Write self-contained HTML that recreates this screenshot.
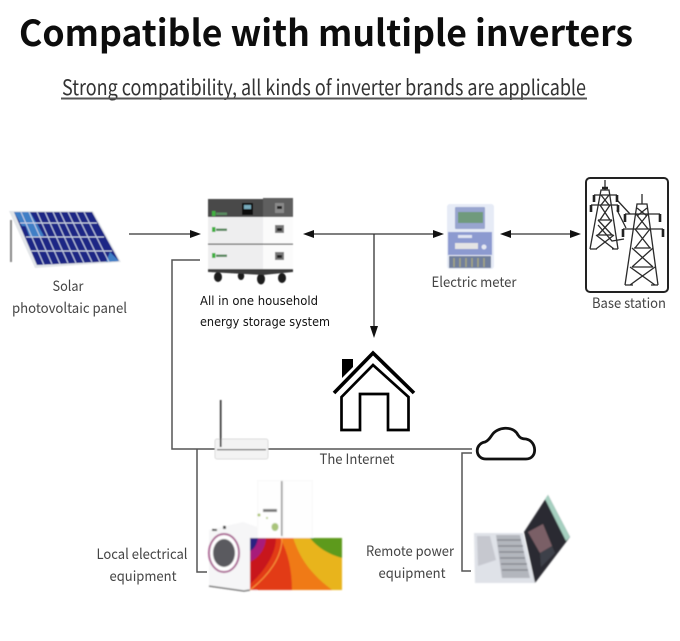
<!DOCTYPE html>
<html><head><meta charset="utf-8"><style>
html,body{margin:0;padding:0;background:#fff}
svg{display:block}
text{font-family:"Noto Sans CJK SC","Liberation Sans",sans-serif}
</style></head><body>
<svg width="680" height="641" viewBox="0 0 680 641" xmlns="http://www.w3.org/2000/svg">
<defs>
<filter id="b" x="-10%" y="-10%" width="120%" height="120%"><feGaussianBlur stdDeviation="0.5"/></filter>
<filter id="b2" x="-10%" y="-10%" width="120%" height="120%"><feGaussianBlur stdDeviation="0.8"/></filter>
<filter id="t" x="-5%" y="-20%" width="110%" height="140%"><feGaussianBlur stdDeviation="0.35"/></filter>
</defs>

<!-- Titles -->
<text x="19" y="46" font-size="36" font-weight="bold" fill="#0c0c0c" textLength="614" lengthAdjust="spacingAndGlyphs" filter="url(#t)">Compatible with multiple inverters</text>
<text x="62" y="95" font-size="21" fill="#333" textLength="524" lengthAdjust="spacingAndGlyphs" filter="url(#t)">Strong compatibility, all kinds of inverter brands are applicable</text>
<rect x="61" y="97.500" width="526" height="2" fill="#555"/>

<!-- Connectors -->
<g fill="none" stroke="#333" stroke-width="1.300">
<path d="M129 234H192"/>
<path d="M312 234H434"/>
<path d="M374 234V328"/>
<path d="M510 234H572"/>
</g>
<g fill="none" stroke="#555" stroke-width="1.500">
<path d="M200 260H172V449H472"/>
<path d="M197 449V572H207"/>
<path d="M472 453H462V571H471"/>
</g>
<g fill="#111">
<path d="M201 234L190 230V238Z"/>
<path d="M303 234L314 230V238Z"/>
<path d="M444 234L433 230V238Z"/>
<path d="M500 234L511 230V238Z"/>
<path d="M581 234L570 230V238Z"/>
<path d="M374 338L370 326H378Z"/>
</g>

<!-- Solar panel -->
<g filter="url(#b)">
<path d="M11 220V262" stroke="#888" stroke-width="2" fill="none"/>
<path d="M9 211H93L121 262L35 268Z" fill="#e2e5e8"/>
<path d="M14 212H92L119 261L37 265Z" fill="#1b2785"/>
<path d="M14 212H30L38 226L22 226Z" fill="#3f7fc6"/>
<path d="M24 222H36L44 236L30 238Z" fill="#3f7fc6"/>
<path d="M110 252L119 261L106 262Z" fill="#3f7fc6"/>
<g stroke="#c9d2e6" stroke-width="1">
<path d="M20 223H97M26 237H104M31 251H112"/>
<path d="M21 212L44 265M29 212L52 264M37 212L60 264M45 212L68 263M53 212L76 263M60 212L84 263M68 212L92 262M76 212L100 262M84 212L109 262"/>
</g>
</g>

<!-- Battery -->
<g filter="url(#b)">
<g fill="#1a1a1a">
<ellipse cx="218" cy="277" rx="4" ry="5"/><ellipse cx="241" cy="276" rx="3.200" ry="4"/><ellipse cx="261" cy="279" rx="4" ry="5.500"/><ellipse cx="282" cy="278" rx="4" ry="5"/>
</g>
<rect x="208" y="199" width="55" height="18" fill="#4a4a4a"/>
<rect x="263" y="198" width="30" height="19" fill="#5e5e5e"/>
<rect x="208" y="217" width="55" height="53" fill="#eeeeef"/>
<rect x="263" y="217" width="30" height="53" fill="#fbfbfb"/>
<rect x="208" y="243.500" width="85" height="1.200" fill="#555"/>
<path d="M208 269H293V272L263 275L208 272Z" fill="#3c3c3c"/>
<rect x="242" y="203" width="11" height="12" fill="#111"/>
<rect x="244" y="205" width="7" height="4" fill="#7ab"/>
<rect x="275" y="203" width="9" height="10" fill="#8a8a8a"/><rect x="277" y="206" width="5" height="3" fill="#222"/>
<rect x="275" y="225" width="9" height="8" fill="#777"/><rect x="277" y="228" width="5" height="3" fill="#222"/>
<rect x="275" y="252" width="9" height="8" fill="#777"/><rect x="277" y="255" width="5" height="3" fill="#222"/>
<g fill="#3fb03f"><rect x="212" y="211" width="3.500" height="5"/><rect x="212" y="227" width="3.500" height="5"/><rect x="212" y="253" width="3.500" height="5"/></g>
<g fill="#5a8a60"><rect x="216" y="212.500" width="11" height="2.500"/><rect x="216" y="228.500" width="11" height="2.500"/><rect x="216" y="254.500" width="11" height="2.500"/></g>
</g>

<!-- Electric meter -->
<g filter="url(#b)">
<rect x="447" y="204" width="47" height="65" rx="3" fill="#e6ebf6"/>
<rect x="455" y="207" width="30" height="22" rx="1" fill="#98a5cf"/>
<rect x="458" y="212" width="25" height="11" fill="#6f9a7d"/>
<rect x="448" y="232" width="44" height="23" fill="#8c9ad0"/>
<rect x="455" y="243" width="23" height="6" fill="#e4e4e4"/>
<rect x="458" y="235" width="14" height="3" fill="#dfe4f2"/>
<circle cx="484" cy="247" r="2.500" fill="#e5e8f2"/>
<rect x="449" y="256" width="42" height="12" fill="#6f7f9c"/>
<path d="M454 258V267M460 258V267M466 258V267M472 258V267M478 258V267M484 258V267" stroke="#a8a880" stroke-width="1.500"/>
</g>

<!-- Pylons box -->
<rect x="586" y="178" width="82" height="114" rx="4" fill="#fff" stroke="#222" stroke-width="2"/>
<g fill="none" stroke="#2a2a2a" stroke-width="1.300" filter="url(#t)">
<path d="M605 180V190M590 249L601 190H609L618 249"/>
<path d="M590 249H597M612 249H618M601 195L609 205M609 195L601 205M600 205L610 220M610 205L600 220M598 220L612 235M612 220L598 235M596 235L614 249M614 235L596 249"/>
<path d="M594 195H617M591 205H618M598 220H612M597 235H613"/>
<path d="M617 200L630 214M617 210L626 228M598 225L612 241L624 239"/>
<path d="M642 194V204M625 285L637 204H647L658 285"/>
<path d="M625 285H633M651 285H658M637 208L647 216M647 208L637 216M636 214L648 229M648 214L636 229M635 229L650 248M650 229L635 248M632 248L653 267M653 248L632 267M630 267L655 285M655 267L630 285"/>
<path d="M634 248H651M632 267H653"/>
<path d="M625 214H660M623 229H663"/>
</g>
<g stroke="#222" stroke-width="2.600" fill="none" filter="url(#t)">
<path d="M594 195V202M617 195V202M591 205V212M618 205V212M625 214V222M660 214V222M623 229V237M663 229V237M602 188H608"/>
</g>

<!-- House -->
<g fill="none" stroke="#000" stroke-linejoin="miter">
<path d="M334 393L373 353L414 393" stroke-width="3.600"/>
<path d="M341.500 397V430H360V394H388V430H408.500V397L373 365Z" stroke-width="2.700"/>
</g>
<path d="M342 359H353V367L342 378Z" fill="#000"/>

<!-- Router -->
<g filter="url(#b)">
<rect x="215" y="439" width="53" height="20" rx="2" fill="#f3f3f3" stroke="#ddd" stroke-width="1"/>
<rect x="217" y="449" width="49" height="1.300" fill="#777"/>
<rect x="219.800" y="400" width="1.800" height="47" fill="#444"/>
</g>

<!-- Cloud -->
<path d="M486 459C475 459 474 444 485 442C488 441 490 438 492 435C497 427 513 425 518 435C520 438 522 439 526 439C537 441 538 459 526 459Z" fill="#fff" stroke="#111" stroke-width="2.800"/>

<!-- Appliances -->
<g filter="url(#b2)">
<rect x="257" y="480" width="56" height="60" fill="#f8f8f8"/>
<rect x="258" y="481" width="23" height="58" fill="#fefefe"/>
<rect x="284" y="481" width="28" height="58" fill="#fefefe"/>
<rect x="281" y="481" width="1.500" height="55" fill="#8a8a8a"/>
<rect x="263" y="509" width="14" height="3" fill="#777"/>
<ellipse cx="275" cy="527" rx="3.500" ry="4" fill="#a9c47a"/>
<circle cx="259" cy="515" r="1.500" fill="#aac46c"/>
<circle cx="267" cy="518" r="1" fill="#aac46c"/>
<path d="M209 530L243 522L257 527V591L244 590L209 585Z" fill="#f6f6f7"/>
<path d="M209 586L244 591L250 590" stroke="#555" stroke-width="1.200" fill="none"/>
<rect x="212" y="529" width="5" height="2" fill="#444"/>
<rect x="223" y="526" width="3" height="3" fill="#444"/>
<ellipse cx="224" cy="553" rx="15" ry="19" fill="#fff" stroke="#a85f90" stroke-width="2"/>
<ellipse cx="224" cy="553" rx="11" ry="14" fill="#5a5a5e"/>
<rect x="250" y="538" width="92" height="52" fill="#e23b14"/>
<path d="M250 538H276C276 554 264 572 250 584Z" fill="#c8181a"/>
<path d="M250 538H266C265 550 258 558 250 562Z" fill="#a81e7a"/>
<path d="M250 538H258C257 545 254 549 250 551Z" fill="#2a2080"/>
<path d="M280 538H293C298 552 305 570 332 590H292C292 570 288 552 280 538Z" fill="#f07a12"/>
<path d="M293 538H342V590H332C305 570 298 552 293 538Z" fill="#e8b41c"/>
<path d="M310 538H342V558C328 554 318 548 310 538Z" fill="#5d9a1e"/>
<path d="M250 590C268 576 282 558 282 538" stroke="#f9a040" stroke-width="1" fill="none"/>
</g>

<!-- Laptop -->
<g filter="url(#b2)">
<path d="M474 533H523L535 583H475Z" fill="#dfe2e8"/>
<path d="M477 536H490L496 560L478 566Z" fill="#c6c8cf"/>
<path d="M496 535H520L530 578H502Z" fill="#b3b6bd"/>
<g stroke="#7e8188" stroke-width="1.200">
<path d="M497 540H521M498 546H523M499 552H524M500 558H525M501 564H527M502 570H528"/>
</g>
<path d="M524 532L548 495L570 537L535 583Z" fill="#2a2a30"/>
<path d="M545 499L548 495L570 537L566 541Z" fill="#a5cfbf"/>
<path d="M528 532L543 524L552 546L540 553Z" fill="#7a5f66"/>
<path d="M540 553L552 546L555 553L541 567Z" fill="#3e4048"/>
</g>

<!-- Labels -->
<g fill="#444" font-size="14" text-anchor="middle" filter="url(#t)">
<text x="68" y="291" textLength="31" lengthAdjust="spacingAndGlyphs">Solar</text>
<text x="69.500" y="313" textLength="115" lengthAdjust="spacingAndGlyphs">photovoltaic panel</text>
<text x="474" y="287" textLength="85" lengthAdjust="spacingAndGlyphs">Electric meter</text>
<text x="629" y="308" textLength="74" lengthAdjust="spacingAndGlyphs">Base station</text>
<text x="357" y="464" textLength="75" lengthAdjust="spacingAndGlyphs">The Internet</text>
<text x="142" y="559" textLength="91" lengthAdjust="spacingAndGlyphs">Local electrical</text>
<text x="143" y="581" textLength="67" lengthAdjust="spacingAndGlyphs">equipment</text>
<text x="410" y="556" textLength="88" lengthAdjust="spacingAndGlyphs">Remote power</text>
<text x="412" y="578" textLength="67" lengthAdjust="spacingAndGlyphs">equipment</text>
</g>
<g fill="#111" font-size="13.500">
<text x="200" y="305" textLength="118" lengthAdjust="spacingAndGlyphs" style="font-family:'DejaVu Sans','Liberation Sans',sans-serif;font-size:12.500px">All in one household</text>
<text x="200" y="326" textLength="130" lengthAdjust="spacingAndGlyphs" style="font-family:'DejaVu Sans','Liberation Sans',sans-serif;font-size:12.500px">energy storage system</text>
</g>
</svg>
</body></html>
